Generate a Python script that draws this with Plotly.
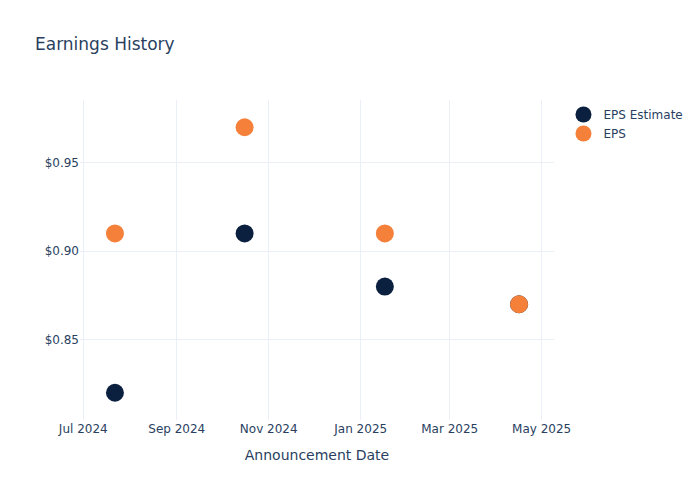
import plotly.graph_objects as go

dates = ["2024-07-22", "2024-10-16", "2025-01-17", "2025-04-16"]
eps_estimate = [0.82, 0.91, 0.88, 0.87]
eps_actual = [0.91, 0.97, 0.91, 0.87]

fig = go.Figure()
fig.add_trace(go.Scatter(x=dates, y=eps_estimate, mode="markers", name="EPS Estimate",
                         marker=dict(color="#0b1f3f", size=18)))
fig.add_trace(go.Scatter(x=dates, y=eps_actual, mode="markers", name="EPS",
                         marker=dict(color="#f5803a", size=18)))
fig.update_layout(
    template="plotly_white",
    width=700, height=500,
    font=dict(family="DejaVu Sans"),
    title=dict(text="Earnings History"),
    xaxis=dict(title="Announcement Date"),
    yaxis=dict(tickformat="$.2f"),
)
fig.write_html("out.html", config={"displayModeBar": False},
               post_script="document.body.style.margin='0';")
